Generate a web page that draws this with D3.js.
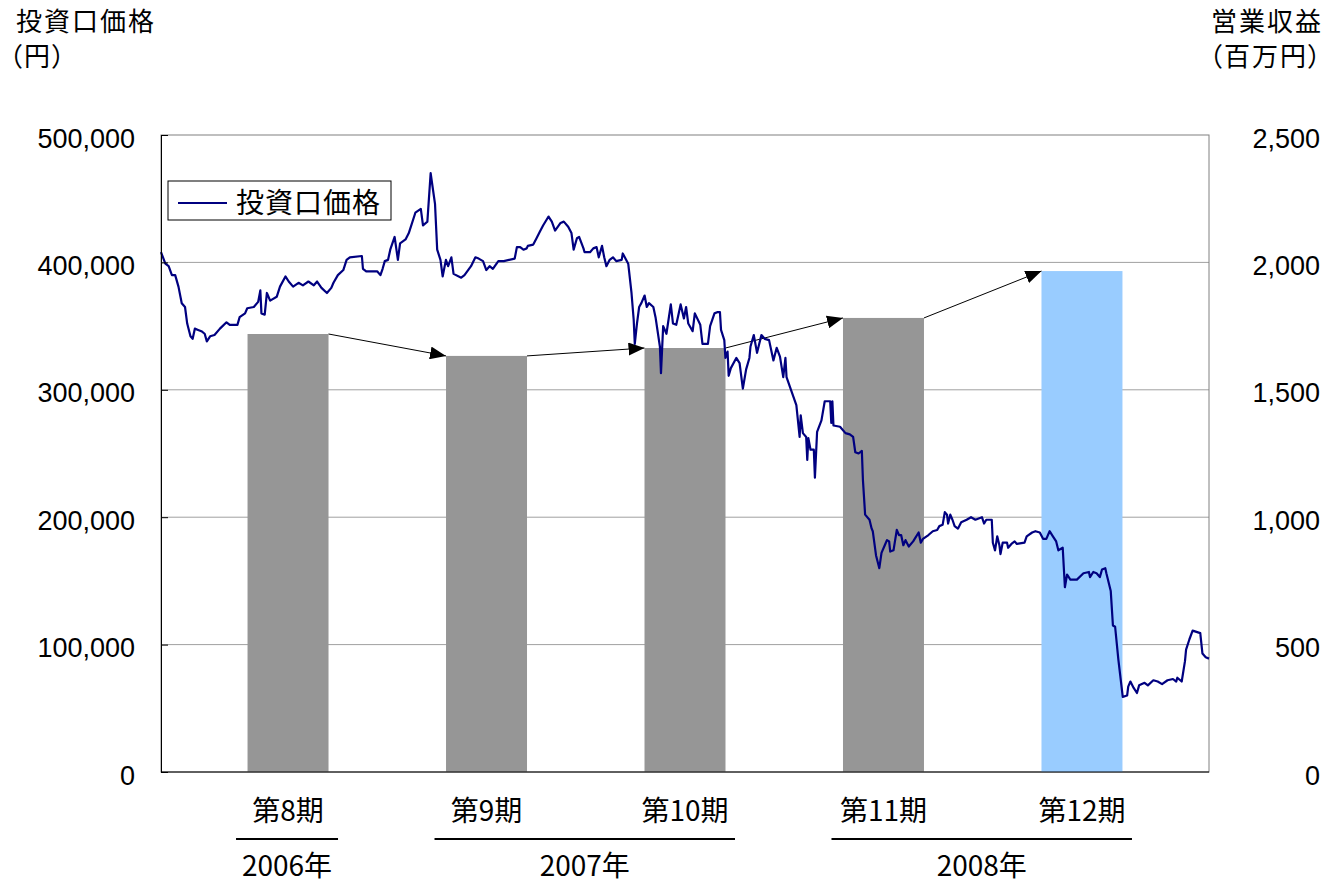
<!DOCTYPE html>
<html lang="ja">
<head>
<meta charset="utf-8">
<script src="https://cdn.jsdelivr.net/npm/d3@7"></script>
<style>
  body { margin: 0; background: #fff; }
  svg.vis { display: block; font-family: "Noto Sans CJK JP", sans-serif; }
  .tick text { font-family: "Liberation Sans", Arial, sans-serif; font-size: 27px; fill: #000; }
  .grid line { stroke: #a0a0a0; stroke-width: 1; }
  text.title { font-feature-settings: "palt"; }
</style>
</head>
<body>
<svg class="vis" width="1330" height="884"></svg>
<script>
// fiscal periods and operating revenue (million yen)
const periods = ['第8期', '第9期', '第10期', '第11期', '第12期'];
const revenue = [1719, 1633, 1664, 1782, 1966];

// calendar year groups under the period labels
const years = ['2006年', '2007年', '2008年'];
const yearPeriods = [['第8期'], ['第9期', '第10期'], ['第11期', '第12期']];

// unit price, [day from start of chart, yen]
const priceSeries = [
  [0,408000],[4,399000],[7,397000],[10,390000],[13,390000],[16,381000],[19,368000],[22,365000],[24,352000],[27,342000],
  [29,340000],[31,348000],[34,347000],[37,346000],[40,344000],[42,338000],[45,342000],[49,343000],[54,348000],[60,353000],
  [63,351000],[70,351000],[72,357000],[77,360000],[79,364000],[85,365000],[89,369000],[91,378000],[92,360000],[95,359000],
  [97,376000],[100,370000],[106,373000],[109,381000],[114,389000],[117,385000],[121,381000],[126,384000],[130,382000],[135,385000],
  [140,382000],[143,385000],[147,380000],[152,376000],[156,380000],[158,384000],[162,390000],[167,394000],[170,402000],[173,404000],
  [184,405000],[185,395000],[188,393000],[198,393000],[201,390000],[203,395000],[205,401000],[208,402000],[210,410000],[214,420000],
  [217,402000],[219,415000],[224,418000],[227,423000],[233,439000],[238,442000],[240,429000],[244,432000],[247,470000],[251,446000],
  [253,410000],[256,402000],[258,389000],[261,402000],[263,397000],[266,404000],[268,391000],[275,388000],[278,390000],[284,397000],
  [288,404000],[291,403000],[295,401000],[298,394000],[301,397000],[304,395000],[309,401000],[314,401000],[324,403000],[326,412000],
  [329,412000],[332,410000],[335,411000],[336,413000],[341,414000],[344,419000],[347,424000],[350,429000],[355,436000],[358,432000],
  [361,425000],[366,431000],[369,432000],[373,428000],[376,423000],[378,410000],[381,419000],[383,420000],[387,411000],[388,408000],
  [393,408000],[396,411000],[399,412000],[401,404000],[404,413000],[406,404000],[408,397000],[411,402000],[414,404000],[417,401000],
  [422,402000],[423,407000],[428,399000],[431,376000],[433,355000],[434,336000],[436,352000],[438,365000],[440,368000],[443,374000],
  [445,365000],[447,368000],[451,365000],[453,357000],[457,334000],[458,313000],[460,350000],[463,344000],[467,367000],[469,352000],
  [472,351000],[476,367000],[479,356000],[481,365000],[483,352000],[487,346000],[489,360000],[494,351000],[496,336000],[501,336000],
  [503,350000],[507,360000],[510,361000],[512,361000],[513,347000],[516,339000],[517,325000],[519,330000],[520,311000],[522,317000],
  [527,325000],[530,321000],[533,301000],[536,316000],[539,325000],[540,334000],[543,343000],[546,329000],[550,343000],[553,340000],
  [557,339000],[561,323000],[564,333000],[567,326000],[570,310000],[572,325000],[573,310000],[582,288000],[585,263000],[586,280000],
  [588,266000],[591,263000],[592,245000],[593,262000],[595,253000],[598,253000],[599,231000],[601,267000],[605,276000],[608,291000],
  [613,291000],[614,274000],[615,291000],[616,272000],[622,271000],[627,266000],[631,265000],[634,263000],[636,251000],[639,250000],
  [642,252000],[643,229000],[645,202000],[649,198000],[651,191000],[652,189000],[655,170000],[658,160000],[660,172000],[663,178000],
  [665,182000],[667,181000],[668,173000],[671,174000],[674,190000],[676,186000],[678,186000],[680,178000],[682,182000],[685,177000],
  [689,181000],[694,188000],[696,180000],[698,183000],[703,186000],[707,189000],[711,190000],[713,193000],[716,194000],[718,204000],
  [720,202000],[721,195000],[723,202000],[725,198000],[727,193000],[730,191000],[733,196000],[738,198000],[742,200000],[746,198000],
  [752,200000],[754,195000],[756,198000],[761,198000],[762,180000],[764,174000],[766,185000],[768,178000],[769,171000],[771,180000],
  [775,180000],[776,176000],[779,179000],[782,181000],[784,179000],[791,180000],[793,185000],[798,188000],[801,189000],[805,188000],
  [808,183000],[811,183000],[814,189000],[817,185000],[820,181000],[822,174000],[826,176000],[828,145000],[830,155000],[833,151000],
  [839,151000],[845,156000],[850,157000],[851,153000],[854,157000],[857,156000],[860,153000],[862,159000],[865,160000],[866,156000],
  [870,142000],[872,115000],[874,114000],[877,88000],[881,59000],[885,60000],[886,67000],[888,71000],[891,66000],[894,62000],
  [896,68000],[901,70000],[904,68000],[909,72000],[913,71000],[917,69000],[922,72000],[927,73000],[930,71000],[931,74000],
  [935,71000],[938,87000],[939,96000],[942,104000],[945,111000],[952,109000],[954,93000],[957,90000],[960,89000]
];

const priceTicks = [0, 100000, 200000, 300000, 400000, 500000];
const revenueTicks = [0, 500, 1000, 1500, 2000, 2500];

const v = {

    sizings : {
        w : 1330,
        h : 884,
        left : 161,
        right : 1209,
        top : 135,
        bottom : 772
    },

    scales : {},

    make_scales : () => {

        const s = v.sizings;

        v.scales.band = d3.scaleBand()
          .domain(periods)
          .range([s.left, s.right])
          .paddingInner(0.592)
          .paddingOuter(0.436);

        v.scales.day = d3.scaleLinear()
          .domain(d3.extent(priceSeries, d => d[0]))
          .range([s.left, s.right]);

        v.scales.price = d3.scaleLinear()
          .domain([0, 500000])
          .range([s.bottom, s.top]);

        v.scales.rev = d3.scaleLinear()
          .domain([0, 2500])
          .range([s.bottom, s.top]);

    },

    render : () => {

        const s = v.sizings;
        const x = v.scales.band, xd = v.scales.day, yp = v.scales.price, yr = v.scales.rev;
        const svg = d3.select('svg.vis');

        // titles
        const titles = [
            { t : '投資口価格', x : 16, y : 31, anchor : 'start' },
            { t : '（円）', x : 9, y : 66, anchor : 'start' },
            { t : '営業収益', x : 1323, y : 31, anchor : 'end' },
            { t : '（百万円）', x : 1323, y : 66, anchor : 'end' }
        ];
        svg.selectAll('text.title')
          .data(titles)
          .join('text')
          .classed('title', true)
          .attr('x', d => d.x)
          .attr('y', d => d.y)
          .attr('text-anchor', d => d.anchor)
          .attr('font-size', 26)
          .attr('letter-spacing', 2)
          .text(d => d.t);

        // grid
        svg.append('g')
          .classed('grid', true)
          .selectAll('line')
          .data(priceTicks.slice(1, -1))
          .join('line')
          .attr('x1', s.left)
          .attr('x2', s.right)
          .attr('y1', d => yp(d))
          .attr('y2', d => yp(d));

        // frame
        svg.append('rect')
          .attr('x', s.left).attr('y', s.top)
          .attr('width', s.right - s.left).attr('height', s.bottom - s.top)
          .attr('fill', 'none')
          .attr('stroke', '#808080');

        // bars
        svg.append('g')
          .selectAll('rect')
          .data(periods)
          .join('rect')
          .attr('x', d => x(d))
          .attr('width', x.bandwidth())
          .attr('y', (d, i) => yr(revenue[i]))
          .attr('height', (d, i) => s.bottom - yr(revenue[i]))
          .attr('fill', (d, i) => i === periods.length - 1 ? '#99ccff' : '#969696');

        // arrows between bar tops
        svg.append('defs').append('marker')
          .attr('id', 'head')
          .attr('markerUnits', 'userSpaceOnUse')
          .attr('viewBox', '0 0 16 13')
          .attr('markerWidth', 16)
          .attr('markerHeight', 13)
          .attr('refX', 16)
          .attr('refY', 6.5)
          .attr('orient', 'auto')
          .append('path')
          .attr('d', 'M0,0L16,6.5L0,13Z')
          .attr('fill', '#000');

        svg.append('g')
          .selectAll('line')
          .data(d3.pairs(periods.map((p, i) => [p, revenue[i]])))
          .join('line')
          .attr('x1', d => x(d[0][0]) + x.bandwidth())
          .attr('y1', d => yr(d[0][1]))
          .attr('x2', d => x(d[1][0]))
          .attr('y2', d => yr(d[1][1]))
          .attr('stroke', '#000')
          .attr('stroke-width', 1)
          .attr('marker-end', 'url(#head)');

        // price line
        svg.append('path')
          .datum(priceSeries)
          .attr('fill', 'none')
          .attr('stroke', '#000080')
          .attr('stroke-width', 2.2)
          .attr('stroke-linejoin', 'round')
          .attr('d', d3.line().x(d => xd(d[0])).y(d => yp(d[1])));

        // axes
        const ax = svg.append('g')
          .attr('transform', `translate(${s.left},0)`)
          .call(d3.axisLeft(yp).tickValues(priceTicks).tickFormat(d3.format(',')).tickSize(-7).tickPadding(26));
        ax.select('.domain').attr('stroke', '#000');
        ax.selectAll('.tick line').attr('stroke', '#000');
        ax.selectAll('.tick text').attr('dy', '0.45em');

        const ar = svg.append('g')
          .attr('transform', `translate(${s.right},0)`)
          .call(d3.axisRight(yr).tickValues(revenueTicks).tickFormat(d3.format(',')).tickSize(0).tickPadding(0));
        ar.select('.domain').remove();
        ar.selectAll('.tick text')
          .attr('x', 1320 - s.right)
          .attr('text-anchor', 'end')
          .attr('dy', '0.45em');

        svg.append('line')
          .attr('x1', s.left).attr('x2', s.right)
          .attr('y1', s.bottom).attr('y2', s.bottom)
          .attr('stroke', '#000');

        // period labels
        svg.append('g')
          .selectAll('text')
          .data(periods)
          .join('text')
          .attr('x', d => x(d) + x.bandwidth() / 2)
          .attr('y', 821)
          .attr('text-anchor', 'middle')
          .attr('font-size', 28)
          .text(d => d);

        // year groups
        const yg = svg.append('g')
          .selectAll('g')
          .data(years.map((yname, i) => ({
              name : yname,
              x1 : x(yearPeriods[i][0]) + x.bandwidth() / 2 - 52,
              x2 : x(yearPeriods[i][yearPeriods[i].length - 1]) + x.bandwidth() / 2 + 50
          })))
          .join('g');

        yg.append('line')
          .attr('x1', d => d.x1).attr('x2', d => d.x2)
          .attr('y1', 839).attr('y2', 839)
          .attr('stroke', '#000')
          .attr('stroke-width', 2);

        yg.append('text')
          .attr('x', d => (d.x1 + d.x2) / 2)
          .attr('y', 876)
          .attr('text-anchor', 'middle')
          .attr('font-size', 28)
          .text(d => d.name);

        // legend
        const lg = svg.append('g');
        lg.append('rect')
          .attr('x', 168).attr('y', 181).attr('width', 223).attr('height', 39)
          .attr('fill', '#fff').attr('stroke', '#000');
        lg.append('line')
          .attr('x1', 178).attr('x2', 227).attr('y1', 203).attr('y2', 203)
          .attr('stroke', '#000080').attr('stroke-width', 2.2);
        lg.append('text')
          .attr('x', 236).attr('y', 213)
          .attr('font-size', 28)
          .attr('letter-spacing', 1)
          .text('投資口価格');

    },

    init : () => {
        v.make_scales();
        v.render();
    }

}

v.init();
</script>
</body>
</html>
